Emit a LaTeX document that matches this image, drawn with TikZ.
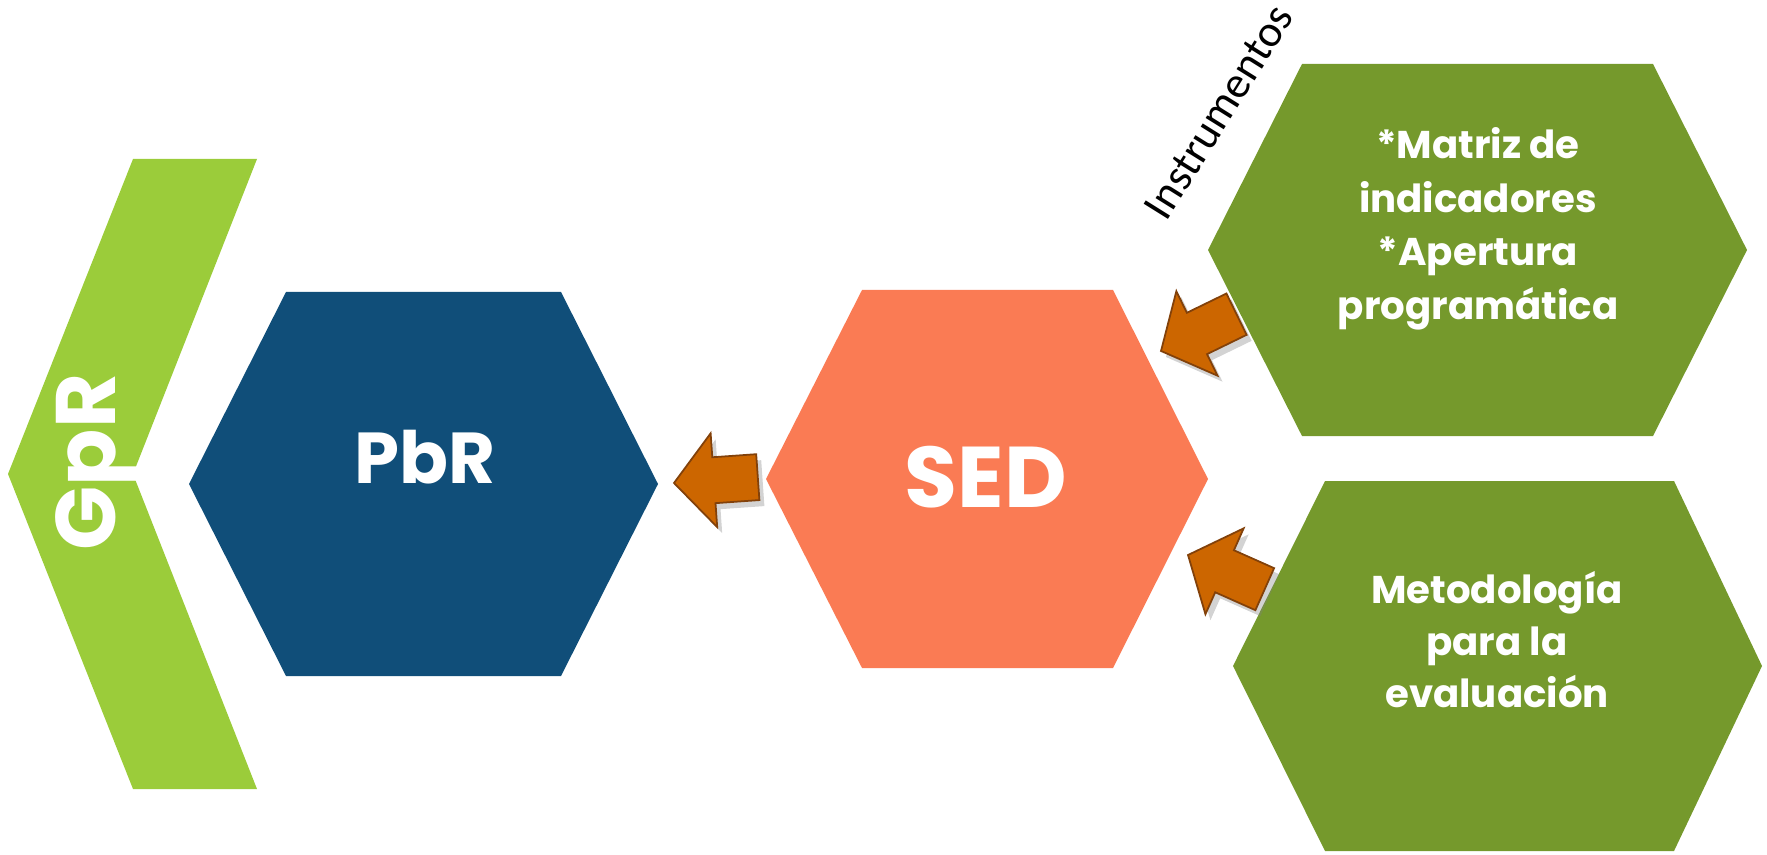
\documentclass[tikz,border=0pt]{standalone}
\usepackage{fontspec}
\setmainfont{Poppins}
\newfontfamily\instrfont{Carlito}
\usetikzlibrary{shadows}
\begin{document}
\begin{tikzpicture}[x=0.01cm,y=-0.01cm,
  hexlabel/.style={text=white,align=center},
  blockarrow/.style={fill=arrowfill,draw=arrowedge,line width=0.5pt,
    drop shadow={opacity=0.35,shadow xshift=0.5mm,shadow yshift=-0.6mm}}]
\definecolor{gprgreen}{RGB}{155,204,58}
\definecolor{pbrblue}{RGB}{16,78,121}
\definecolor{sedcoral}{RGB}{250,123,84}
\definecolor{instgreen}{RGB}{117,153,44}
\definecolor{arrowfill}{RGB}{204,102,0}
\definecolor{arrowedge}{RGB}{130,65,10}
\useasboundingbox (0,0) rectangle (1767,855);
\fill[color=gprgreen] (133,159) -- (257,159) -- (133,474) -- (257,789) -- (133,789) -- (8,474) -- cycle;
\fill[color=pbrblue] (286,292) -- (561,292) -- (658,484) -- (561,676) -- (286,676) -- (189,484) -- cycle;
\fill[color=sedcoral] (862,290) -- (1113,290) -- (1208,479) -- (1113,668) -- (862,668) -- (766,479) -- cycle;
\fill[color=instgreen] (1302,64) -- (1653,64) -- (1747,250) -- (1653,436) -- (1302,436) -- (1208,250) -- cycle;
\fill[color=instgreen] (1325,481) -- (1674,481) -- (1762,666) -- (1674,851) -- (1325,851) -- (1233,666) -- cycle;
\node[hexlabel,rotate=90,anchor=base,font=\bfseries\fontsize{24}{28}\selectfont] (gpr) at (115,462) {GpR};
\node[hexlabel,anchor=base,font=\bfseries\fontsize{20.5}{24}\selectfont] (pbr) at (425,483) {PbR};
\node[hexlabel,anchor=base,font=\bfseries\fontsize{24.5}{28}\selectfont] (sed) at (986,507) {SED};
\node[hexlabel,font=\bfseries\fontsize{11}{15.2}\selectfont] (matriz) at (1478,229) {*Matriz de\\indicadores\\*Apertura\\programática};
\node[hexlabel,font=\bfseries\fontsize{11}{14.8}\selectfont] (metodo) at (1497,640) {Metodología\\para la\\evaluación};
\node[rotate=58,font=\instrfont\fontsize{12.7}{15}\selectfont] (instr) at (1219,112) {Instrumentos};
\filldraw[blockarrow,shift={(674,483)},rotate=4] (0,0) -- (40,-47) -- (40,-23) -- (84,-23) -- (84,23) -- (40,23) -- (40,47) -- cycle;
\filldraw[blockarrow,shift={(1161,351)},rotate=26] (0,0) -- (40,-47) -- (40,-23) -- (84,-23) -- (84,23) -- (40,23) -- (40,47) -- cycle;
\filldraw[blockarrow,shift={(1188,555)},rotate=-24] (0,0) -- (40,-47) -- (40,-23) -- (84,-23) -- (84,23) -- (40,23) -- (40,47) -- cycle;
\end{tikzpicture}
\end{document}
